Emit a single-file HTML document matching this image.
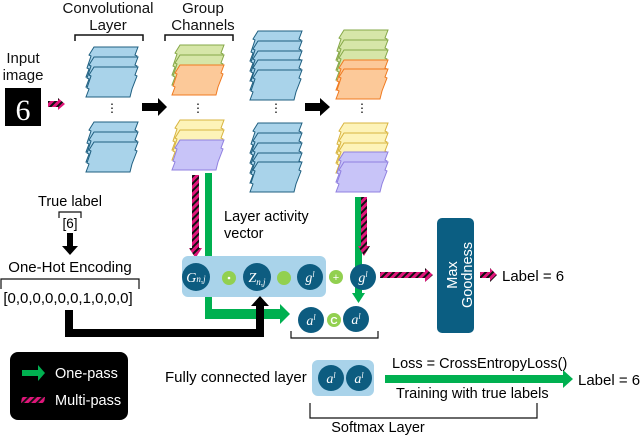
<!DOCTYPE html>
<html><head><meta charset="utf-8"><style>
body{margin:0;background:#fff}
svg{display:block;font-family:"Liberation Sans",sans-serif}
.b{fill:#a9d3ea;stroke:#1f5f80}
.g{fill:#d6e6a8;stroke:#86a848}
.o{fill:#fcc999;stroke:#f07a20}
.y{fill:#fdf3b8;stroke:#d8b440}
.p{fill:#c8c4f8;stroke:#9080e0}
.c{fill:#0d5c80}
.ct{fill:#fff;font-family:"Liberation Serif",serif;font-style:italic;font-size:14px;text-anchor:middle}
</style></head><body>
<svg width="640" height="435" viewBox="0 0 640 435" xmlns="http://www.w3.org/2000/svg">
<defs>
<path id="s" d="M8,0 L52,0 L49,8 L51,9 L46,22 L44,30 L0,30 L3,22 L1,21 L5,9 L3,8 Z" stroke-width="1"/>
<pattern id="h" width="5" height="5" patternUnits="userSpaceOnUse" patternTransform="rotate(45)">
<rect width="5" height="5" fill="#e0157a"/><rect width="2" height="5" fill="#111"/></pattern>
</defs>
<g font-size="15" fill="#111" text-anchor="middle">
<text x="108" y="13">Convolutional</text><text x="108" y="30">Layer</text>
<text x="203" y="13">Group</text><text x="203" y="30">Channels</text>
<text x="23" y="63" font-size="15">Input</text><text x="23" y="80" font-size="15">image</text>
</g>
<path d="M75,41 V35 H143 V41 M165,41 V35 H233 V41" fill="none" stroke="#111" stroke-width="1.5"/>
<rect x="5" y="88" width="36" height="38" fill="#000"/>
<text x="23" y="120" fill="#fff" font-size="30" text-anchor="middle" font-family="Liberation Serif">6</text>
<polygon points="48,101 58,101 58,98 65,104 58,110 58,107 48,107" fill="url(#h)"/>
<use href="#s" x="86" y="47" class="b"/><use href="#s" x="86" y="57" class="b"/><use href="#s" x="86" y="67" class="b"/>
<use href="#s" x="86" y="122" class="b"/><use href="#s" x="86" y="132" class="b"/><use href="#s" x="86" y="142" class="b"/>
<text x="112" y="112" font-size="12" text-anchor="middle">⋮</text>
<polygon points="142,103 158,103 158,98 167,107 158,116 158,111 142,111" fill="#000"/>
<use href="#s" x="172" y="45" class="g"/><use href="#s" x="172" y="55" class="g"/><use href="#s" x="172" y="65" class="o"/>
<use href="#s" x="172" y="120" class="y"/><use href="#s" x="172" y="130" class="y"/><use href="#s" x="172" y="140" class="p"/>
<text x="198" y="112" font-size="12" text-anchor="middle">⋮</text>
<use href="#s" x="250" y="31" class="b"/><use href="#s" x="250" y="41" class="b"/><use href="#s" x="250" y="51" class="b"/><use href="#s" x="250" y="60" class="b"/><use href="#s" x="250" y="70" class="b"/>
<use href="#s" x="250" y="123" class="b"/><use href="#s" x="250" y="133" class="b"/><use href="#s" x="250" y="143" class="b"/><use href="#s" x="250" y="153" class="b"/><use href="#s" x="250" y="162" class="b"/>
<text x="276" y="112" font-size="12" text-anchor="middle">⋮</text>
<polygon points="305,103 320,103 320,98 330,107 320,116 320,111 305,111" fill="#000"/>
<use href="#s" x="336" y="30" class="g"/><use href="#s" x="336" y="40" class="g"/><use href="#s" x="336" y="50" class="g"/><use href="#s" x="336" y="60" class="o"/><use href="#s" x="336" y="69" class="o"/>
<use href="#s" x="336" y="123" class="y"/><use href="#s" x="336" y="133" class="y"/><use href="#s" x="336" y="143" class="y"/><use href="#s" x="336" y="152" class="p"/><use href="#s" x="336" y="162" class="p"/>
<text x="362" y="112" font-size="12" text-anchor="middle">⋮</text>
<polygon points="205,173 212,173 212,309 280,309 280,304 290,314 280,324 280,319 205,319" fill="#00b050"/>
<polygon points="192,175 199,175 199,248 202,248 195.5,258 189,248 192,248" fill="url(#h)"/>
<polygon points="355,197 362,197 362,293 365,293 358.5,303 352,293 355,293" fill="#00b050"/>
<polygon points="361,197 367,197 367,246 370,246 364,256 358,246 361,246" fill="url(#h)"/>
<text x="224" y="221" font-size="14.5">Layer activity</text><text x="224" y="238" font-size="14.5">vector</text>
<rect x="182" y="256" width="144" height="41" rx="6" fill="#a9d3ea"/>
<circle cx="196" cy="277" r="14" class="c"/><text x="196" y="282" class="ct">G<tspan font-size="9">n,j</tspan></text>
<circle cx="229" cy="278" r="7" fill="#92d050"/><circle cx="229" cy="278" r="1.3" fill="#fff"/>
<circle cx="257" cy="277" r="14" class="c"/><text x="257" y="282" class="ct">Z<tspan font-size="9" dy="3">n,j</tspan></text>
<circle cx="284" cy="278" r="7" fill="#92d050"/>
<circle cx="310" cy="277" r="13" class="c"/><text x="310" y="282" class="ct">g<tspan font-size="8" dy="-5">l</tspan></text>
<circle cx="336" cy="277" r="7" fill="#92d050"/><text x="336" y="281" fill="#fff" font-size="11" text-anchor="middle">+</text>
<circle cx="363" cy="277" r="13" class="c"/><text x="363" y="282" class="ct">g<tspan font-size="8" dy="-5">l</tspan></text>
<polygon points="380,272 425,272 425,268 433,275 425,282 425,278 380,278" fill="url(#h)"/>
<rect x="437" y="218" width="37" height="115" rx="5" fill="#0b5e82"/>
<text transform="translate(457,275) rotate(-90)" fill="#fff" font-size="14.5" text-anchor="middle">Max</text>
<text transform="translate(472,275) rotate(-90)" fill="#fff" font-size="14.5" text-anchor="middle">Goodness</text>
<polygon points="480,272 490,272 490,268 497,275 490,282 490,278 480,278" fill="url(#h)"/>
<text x="502" y="281" font-size="15">Label = 6</text>
<circle cx="311" cy="320" r="13" class="c"/><text x="311" y="325" class="ct">a<tspan font-size="8" dy="-5">l</tspan></text>
<circle cx="334" cy="320" r="7" fill="#92d050"/><text x="334" y="324" fill="#fff" font-size="10" font-weight="bold" text-anchor="middle">C</text>
<circle cx="356" cy="319" r="13" class="c"/><text x="356" y="324" class="ct">a<tspan font-size="8" dy="-5">l</tspan></text>
<path d="M291,331 V338 H378 V331" fill="none" stroke="#111" stroke-width="1.2"/>
<text x="70" y="206" font-size="14.5" text-anchor="middle">True label</text>
<path d="M59,218 V212 H81 V218" fill="none" stroke="#111" stroke-width="1.2"/>
<text x="70" y="228" font-size="13.5" text-anchor="middle">[6]</text>
<polygon points="67,233 73,233 73,246 78,246 70,255 62,246 67,246" fill="#000"/>
<text x="70" y="272" font-size="15" text-anchor="middle">One-Hot Encoding</text>
<path d="M1,289 V279 H139 V289" fill="none" stroke="#111" stroke-width="1.2"/>
<text x="68" y="303" font-size="15" text-anchor="middle">[0,0,0,0,0,0,1,0,0,0]</text>
<polygon points="65,310 73,310 73,329 256,329 256,306 251,306 260,296 269,306 264,306 264,337 65,337" fill="#000"/>
<rect x="10" y="352" width="118" height="68" rx="8" fill="#000"/>
<polygon points="22,370 38,370 38,365 45,373 38,381 38,376 22,376" fill="#00b050"/>
<text x="55" y="378" fill="#fff" font-size="14.5">One-pass</text>
<polygon points="22,397 45,397 44,403 21,403" fill="url(#h)"/>
<text x="55" y="405" fill="#fff" font-size="14.5">Multi-pass</text>
<text x="165" y="382" font-size="15">Fully connected layer</text>
<rect x="312" y="360" width="62" height="36" rx="6" fill="#a9d3ea"/>
<circle cx="331" cy="378" r="13" class="c"/><text x="331" y="383" class="ct">a<tspan font-size="8" dy="-5">l</tspan></text>
<circle cx="359" cy="378" r="13" class="c"/><text x="359" y="383" class="ct">a<tspan font-size="8" dy="-5">l</tspan></text>
<polygon points="385,375 563,375 563,370 573,379 563,388 563,383 385,383" fill="#00b050"/>
<text x="392" y="368" font-size="14.5">Loss = CrossEntropyLoss()</text>
<text x="396" y="398" font-size="14.5">Training with true labels</text>
<text x="578" y="385" font-size="15">Label = 6</text>
<path d="M310,403 V418 H537 V403" fill="none" stroke="#111" stroke-width="1.2"/>
<text x="378" y="432" font-size="14.5" text-anchor="middle">Softmax Layer</text>
</svg>
</body></html>
